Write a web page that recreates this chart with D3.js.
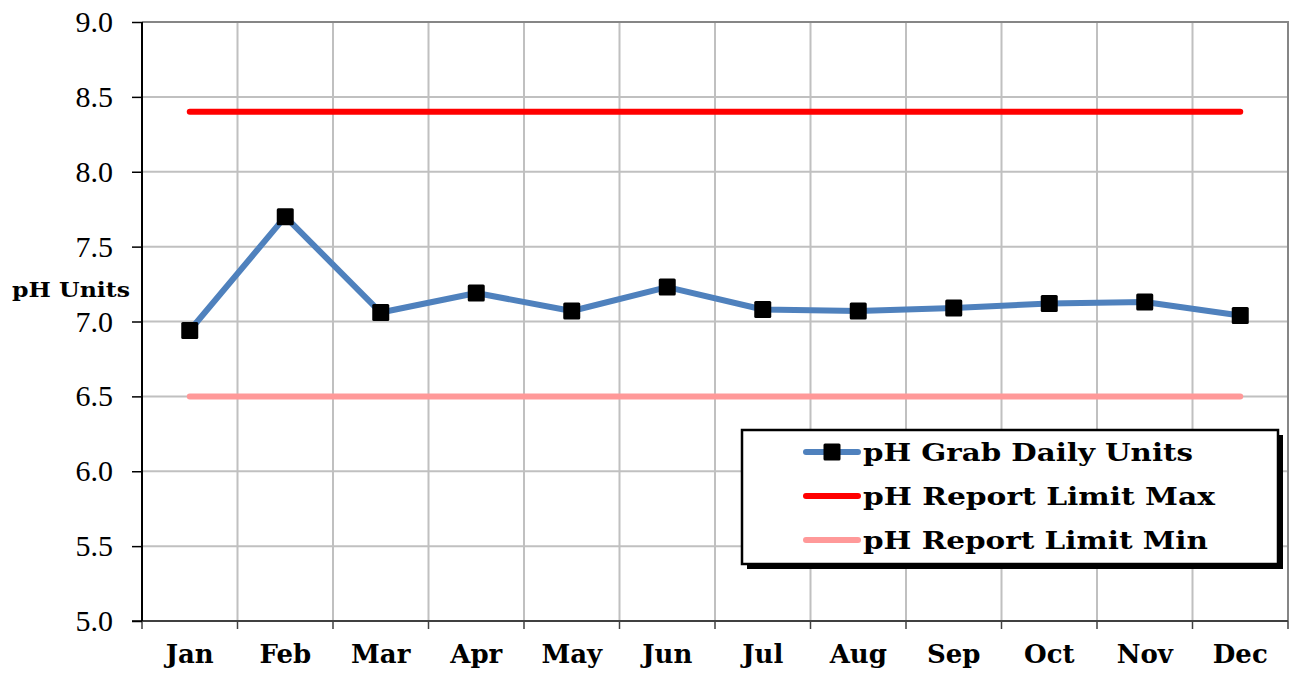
<!DOCTYPE html>
<html>
<head>
<meta charset="utf-8">
<script src="https://cdn.jsdelivr.net/npm/d3@7"></script>
<style>
  body { margin: 0; background: #fff; }
  svg { display: block; }
</style>
</head>
<body>
<div id="chart"></div>
<script>
var months = ["Jan", "Feb", "Mar", "Apr", "May", "Jun", "Jul", "Aug", "Sep", "Oct", "Nov", "Dec"];
var phGrab = [6.94, 7.70, 7.06, 7.19, 7.07, 7.23, 7.08, 7.07, 7.09, 7.12, 7.13, 7.04];
var limitMax = [8.4, 8.4, 8.4, 8.4, 8.4, 8.4, 8.4, 8.4, 8.4, 8.4, 8.4, 8.4];
var limitMin = [6.5, 6.5, 6.5, 6.5, 6.5, 6.5, 6.5, 6.5, 6.5, 6.5, 6.5, 6.5];
var yTicks = [5.0, 5.5, 6.0, 6.5, 7.0, 7.5, 8.0, 8.5, 9.0];
var seriesNames = ["pH Grab Daily Units", "pH Report Limit Max", "pH Report Limit Min"];

var W = 1290, H = 673;
var margin = {top: 22, right: 2, bottom: 52, left: 142};
var width = W - margin.left - margin.right,
    height = H - margin.top - margin.bottom;
var serifFont = "'Liberation Serif', Tinos, 'Times New Roman', Times, 'Nimbus Roman', serif";
var boldFont = "'DejaVu Serif', serif";

var svg = d3.select("#chart").append("svg")
  .attr("width", W)
  .attr("height", H);

var g = svg.append("g")
  .attr("transform", "translate(" + margin.left + "," + margin.top + ")");

var x = d3.scaleBand().domain(months).range([0, width]).padding(0);
var y = d3.scaleLinear().domain([5, 9]).range([height, 0]);
var cx = function (i) { return x(months[i]) + x.bandwidth() / 2; };

// grid
var bounds = months.map(function (m) { return x(m); }).concat([width]);
g.append("g").selectAll("line.vg")
  .data(bounds.slice(1, -1))
  .enter().append("line")
  .attr("x1", function (d) { return d; }).attr("x2", function (d) { return d; })
  .attr("y1", 0).attr("y2", height)
  .attr("stroke", "#c0c0c0").attr("stroke-width", 2);

g.append("g").selectAll("line.hg")
  .data(yTicks.slice(1, -1))
  .enter().append("line")
  .attr("x1", 0).attr("x2", width)
  .attr("y1", function (d) { return y(d); }).attr("y2", function (d) { return y(d); })
  .attr("stroke", "#c0c0c0").attr("stroke-width", 2);

// top and right border
g.append("path")
  .attr("d", "M0,0H" + width + "V" + height)
  .attr("fill", "none").attr("stroke", "#868686").attr("stroke-width", 2);

// x axis: ticks at band boundaries
g.append("g").selectAll("line.xt")
  .data(bounds)
  .enter().append("line")
  .attr("x1", function (d) { return d; }).attr("x2", function (d) { return d; })
  .attr("y1", height).attr("y2", height + 8)
  .attr("stroke", "#404040").attr("stroke-width", 1.5);

g.append("line")
  .attr("x1", -10).attr("x2", width)
  .attr("y1", height).attr("y2", height)
  .attr("stroke", "#404040").attr("stroke-width", 2);

var xAxis = g.append("g")
  .attr("transform", "translate(0," + height + ")")
  .call(d3.axisBottom(x).tickSize(0).tickPadding(24));
xAxis.select(".domain").remove();
xAxis.selectAll("text")
  .style("font-family", boldFont)
  .style("font-weight", "bold")
  .style("font-size", "26px")
  .attr("fill", "#000");

// y axis
var yAxis = g.append("g")
  .call(d3.axisLeft(y).tickValues(yTicks).tickFormat(d3.format(".1f")).tickSize(10).tickPadding(19));
yAxis.select(".domain").attr("stroke", "#000").attr("stroke-width", 2).attr("d", "M0,0V" + height);
yAxis.selectAll(".tick line").attr("stroke", "#000").attr("stroke-width", 1.5);
yAxis.selectAll("text")
  .style("font-family", serifFont)
  .style("font-size", "30px")
  .attr("fill", "#000");

svg.append("text")
  .attr("x", 12).attr("y", 297)
  .style("font-family", boldFont)
  .style("font-weight", "bold")
  .style("font-size", "20px")
  .attr("textLength", 118)
  .attr("lengthAdjust", "spacingAndGlyphs")
  .attr("fill", "#000")
  .text("pH Units");

// series
var line = d3.line()
  .x(function (d, i) { return cx(i); })
  .y(function (d) { return y(d); });

g.append("path").datum(limitMin)
  .attr("fill", "none").attr("stroke", "#ff9999").attr("stroke-width", 6)
  .attr("stroke-linecap", "round").attr("d", line);

g.append("path").datum(limitMax)
  .attr("fill", "none").attr("stroke", "#ff0000").attr("stroke-width", 6)
  .attr("stroke-linecap", "round").attr("d", line);

g.append("path").datum(phGrab)
  .attr("fill", "none").attr("stroke", "#4f81bd").attr("stroke-width", 6)
  .attr("stroke-linejoin", "round").attr("d", line);

var ms = 17;
g.selectAll("rect.mk")
  .data(phGrab)
  .enter().append("rect")
  .attr("x", function (d, i) { return cx(i) - ms / 2; })
  .attr("y", function (d) { return y(d) - ms / 2; })
  .attr("width", ms).attr("height", ms)
  .attr("rx", 1.5)
  .attr("fill", "#000");

// legend
var lg = svg.append("g").attr("transform", "translate(742,430)");
lg.append("rect").attr("x", 5).attr("y", 5).attr("width", 536).attr("height", 134).attr("fill", "#000");
lg.append("rect").attr("x", 0).attr("y", 0).attr("width", 536).attr("height", 134)
  .attr("fill", "#fff").attr("stroke", "#000").attr("stroke-width", 2.5);

var lcolors = ["#4f81bd", "#ff0000", "#ff9999"];
var lwidths = [330, 352, 345];
var row = lg.selectAll("g.row")
  .data(seriesNames)
  .enter().append("g")
  .attr("transform", function (d, i) { return "translate(0," + (22 + i * 44) + ")"; });
row.append("line")
  .attr("x1", 64).attr("x2", 116)
  .attr("stroke", function (d, i) { return lcolors[i]; })
  .attr("stroke-width", 6).attr("stroke-linecap", "round");
row.filter(function (d, i) { return i === 0; }).append("rect")
  .attr("x", 90 - ms / 2).attr("y", -ms / 2).attr("width", ms).attr("height", ms)
  .attr("rx", 1.5).attr("fill", "#000");
row.append("text")
  .attr("x", 121).attr("y", 9)
  .style("font-family", boldFont)
  .style("font-weight", "bold")
  .style("font-size", "25px")
  .attr("textLength", function (d, i) { return lwidths[i]; })
  .attr("lengthAdjust", "spacingAndGlyphs")
  .attr("fill", "#000")
  .text(function (d) { return d; });
</script>
</body>
</html>
